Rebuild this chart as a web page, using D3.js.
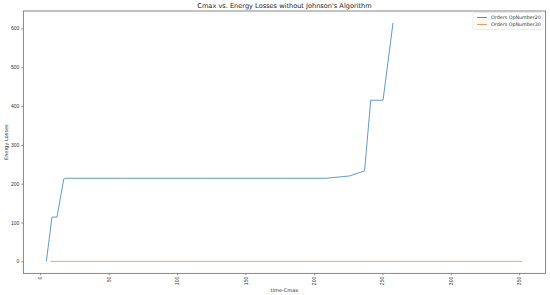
<!DOCTYPE html>
<html lang="en">
<head>
  <meta charset="UTF-8">
  <title>Cmax vs. Energy Losses</title>
  <script src="https://d3js.org/d3.v7.min.js"></script>
  <style>
    html, body { margin: 0; padding: 0; background: #fff; }
    svg { display: block; font-family: "DejaVu Sans", sans-serif; }
  </style>
</head>
<body>
  <div id="chart"></div>
  <script>
    // values
    const seriesNames = ['Orders OpNumber20', 'Orders OpNumber30'];
    const colors = ['#1f77b4', '#ff7f0e'];
    const op20X = [4.5, 8.6, 12.3, 17.2, 18.6, 60, 120, 180, 209, 226, 237, 241.5, 250.5, 257.8];
    const op20Y = [0, 114, 114, 212, 214, 214, 214, 214, 214, 220, 233, 415, 415, 614];
    const op30X = [7.5, 50, 100, 150, 200, 250, 300, 352];
    const op30Y = [0, 0, 0, 0, 0, 0, 0, 0];
    const xTicks = [0, 50, 100, 150, 200, 250, 300, 350];
    const yTicks = [0, 100, 200, 300, 400, 500, 600];

    const width = 550, height = 295;
    const m = { left: 23.3, right: 4.3, top: 11, bottom: 21.7 };

    const svg = d3.select('#chart').append('svg')
      .attr('width', width)
      .attr('height', height);

    const x = d3.scaleLinear().domain([-12.35, 369.35]).range([m.left, width - m.right]);
    const y = d3.scaleLinear().domain([-30.7, 644.7]).range([height - m.bottom, m.top]);

    const series = [
      op20X.map((v, i) => [v, op20Y[i]]),
      op30X.map((v, i) => [v, op30Y[i]])
    ];

    const line = d3.line().x(d => x(d[0])).y(d => y(d[1]));

    svg.append('g').selectAll('path')
      .data(series)
      .join('path')
      .attr('fill', 'none')
      .attr('stroke', (d, i) => colors[i])
      .attr('stroke-opacity', 0.8)
      .attr('stroke-width', 0.9)
      .attr('stroke-linejoin', 'round')
      .attr('d', line);

    // frame
    svg.append('rect')
      .attr('x', m.left).attr('y', m.top)
      .attr('width', width - m.left - m.right)
      .attr('height', height - m.top - m.bottom)
      .attr('fill', 'none')
      .attr('stroke', '#555')
      .attr('stroke-width', 0.7);

    const xAxis = svg.append('g')
      .attr('transform', `translate(0,${height - m.bottom})`)
      .call(d3.axisBottom(x).tickValues(xTicks).tickSize(2).tickPadding(2).tickFormat(d3.format('d')));
    xAxis.select('.domain').remove();
    xAxis.selectAll('line').attr('stroke', '#555').attr('stroke-width', 0.6);
    xAxis.selectAll('text')
      .attr('font-size', 5)
      .attr('fill', '#333')
      .attr('transform', 'rotate(-90)')
      .attr('text-anchor', 'end')
      .attr('dy', '0.32em')
      .attr('x', -3.5)
      .attr('y', 0);

    const yAxis = svg.append('g')
      .attr('transform', `translate(${m.left},0)`)
      .call(d3.axisLeft(y).tickValues(yTicks).tickSize(2).tickPadding(2).tickFormat(d3.format('d')));
    yAxis.select('.domain').remove();
    yAxis.selectAll('line').attr('stroke', '#555').attr('stroke-width', 0.6);
    yAxis.selectAll('text').attr('font-size', 5).attr('fill', '#333');

    svg.append('text')
      .attr('x', (m.left + width - m.right) / 2)
      .attr('y', 8)
      .attr('text-anchor', 'middle')
      .attr('font-size', 6.6)
      .attr('fill', '#222')
      .text("Cmax vs. Energy Losses without Johnson's Algorithm");

    svg.append('text')
      .attr('x', (m.left + width - m.right) / 2)
      .attr('y', 291.5)
      .attr('text-anchor', 'middle')
      .attr('font-size', 5)
      .attr('fill', '#333')
      .text('time-Cmax');

    svg.append('text')
      .attr('transform', `translate(7.5,${(m.top + height - m.bottom) / 2}) rotate(-90)`)
      .attr('text-anchor', 'middle')
      .attr('font-size', 5)
      .attr('fill', '#333')
      .text('Energy Losses');

    // legend
    const lg = svg.append('g').attr('transform', 'translate(473,12.5)');
    lg.append('rect')
      .attr('width', 70).attr('height', 17)
      .attr('rx', 1.5)
      .attr('fill', '#fff')
      .attr('stroke', '#ddd')
      .attr('stroke-width', 0.6);
    seriesNames.forEach((name, i) => {
      const row = lg.append('g').attr('transform', `translate(0,${5 + i * 7})`);
      row.append('line')
        .attr('x1', 4).attr('x2', 14)
        .attr('stroke', colors[i]).attr('stroke-opacity', 0.8).attr('stroke-width', 1);
      row.append('text')
        .attr('x', 18).attr('dy', '0.35em')
        .attr('font-size', 4.8)
        .attr('fill', '#333')
        .text(name);
    });
  </script>
</body>
</html>
